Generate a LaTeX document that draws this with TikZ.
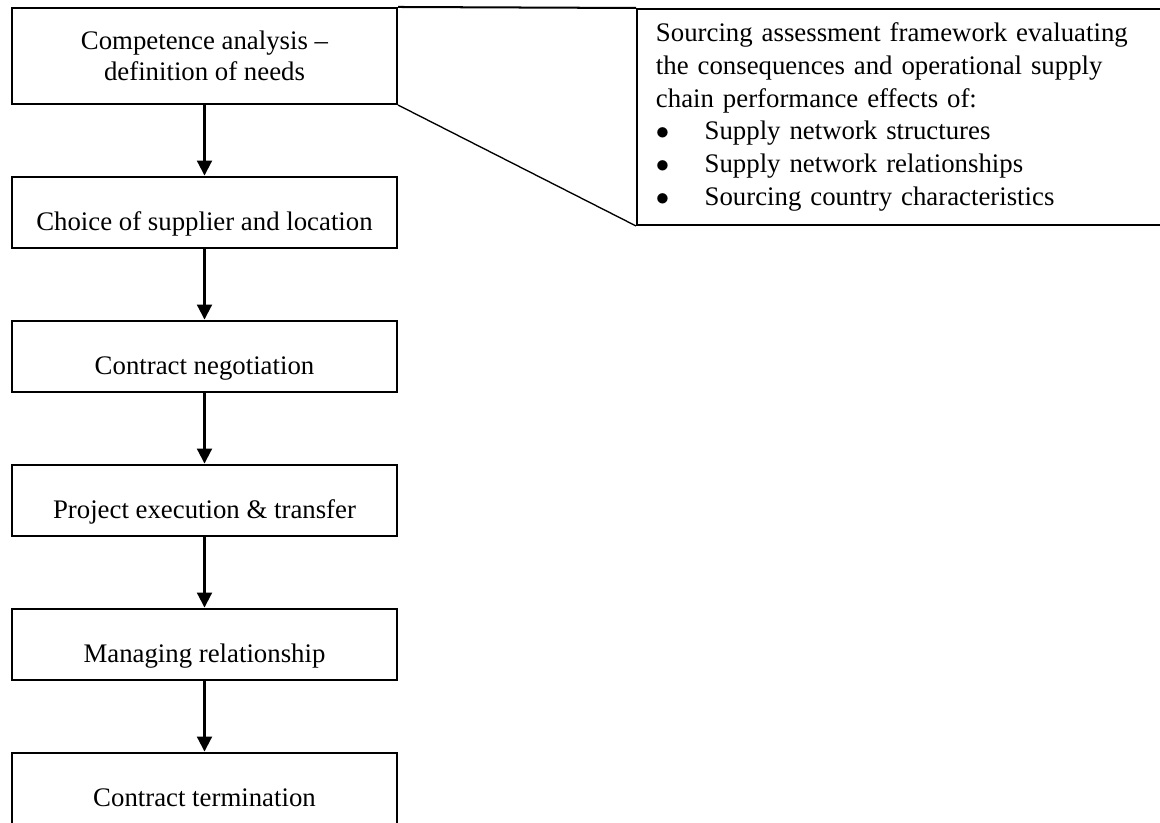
\documentclass[tikz,border=0pt]{standalone}
\usepackage{fontspec}
\setmainfont{Liberation Serif}
\usepackage{tikz}
\usetikzlibrary{positioning,arrows.meta}

\newcommand{\framebullet}{\makebox[21.8pt][l]{$\bullet$}}

\begin{document}
\begin{tikzpicture}[x=0.4478pt, y=-0.4478pt,
    stage/.style={draw, line width=0.9pt, minimum width=172.4pt, minimum height=32.2pt,
        inner sep=0pt, align=center, font=\fontsize{12}{13.8}\selectfont},
    oneline/.style={text height=16.4pt, text depth=0pt},
    flow/.style={line width=0.9pt, -{Triangle[width=6.7pt,length=6.7pt]}}]
    \useasboundingbox (0,0) rectangle (1160,823);
    \clip (0,0) rectangle (1160,823);

    % process steps
    \node [stage, minimum height=43pt] (need) at (204.5, 56) {Competence analysis --\\definition of needs};
    \node [stage, oneline] (choice) at (204.5, 212.5) {Choice of supplier and location};
    \node [stage, oneline] (negot) at (204.5, 356.5) {Contract negotiation};
    \node [stage, oneline] (exec) at (204.5, 500.5) {Project execution \& transfer};
    \node [stage, oneline] (manage) at (204.5, 644.5) {Managing relationship};
    \node [stage, oneline] (term) at (204.5, 788.5) {Contract termination};

    \draw [flow] (need) -- (choice);
    \draw [flow] (choice) -- (negot);
    \draw [flow] (negot) -- (exec);
    \draw [flow] (exec) -- (manage);
    \draw [flow] (manage) -- (term);

    % assessment frame
    \node [draw, line width=0.9pt, anchor=north west, text width=223pt, minimum height=96.7pt,
        inner xsep=8.5pt, align=left, font=\fontsize{12}{14.7}\selectfont] (frame) at (636, 8)
        {Sourcing assessment framework evaluating\\
         the consequences and operational supply\\
         chain performance effects of:\\
         \framebullet Supply network structures\\
         \framebullet Supply network relationships\\
         \framebullet Sourcing country characteristics};
    \draw [line width=0.9pt] (need.north east) -- (frame.north west);
    \draw [line width=0.6pt] (need.south east) -- (frame.south west);
\end{tikzpicture}
\end{document}
